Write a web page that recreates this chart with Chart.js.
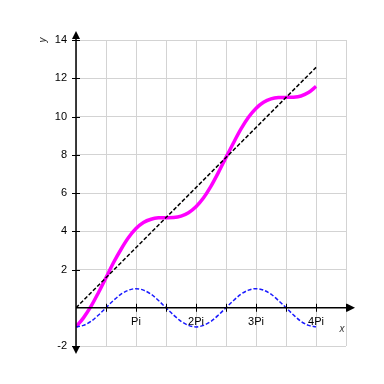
<!DOCTYPE html>
<html>
<head>
<meta charset="utf-8">
<script src="https://cdn.jsdelivr.net/npm/chart.js@4"></script>
<style>
  html, body { margin: 0; padding: 0; background: #fff; }
  #chart { display: block; }
</style>
</head>
<body>
<canvas id="chart" width="384" height="384"></canvas>
<script>
// sample points (x in radians, step Pi/8)
const xValues = [0, 0.39, 0.79, 1.18, 1.57, 1.96, 2.36, 2.75, 3.14, 3.53, 3.93, 4.32, 4.71, 5.11, 5.50, 5.89,
    6.28, 6.68, 7.07, 7.46, 7.85, 8.25, 8.64, 9.03, 9.42, 9.82, 10.21, 10.60, 11.00, 11.39, 11.78, 12.17, 12.57];
const curveValues = [-1, -0.53, 0.08, 0.80, 1.57, 2.35, 3.06, 3.67, 4.14, 4.46, 4.63, 4.70, 4.71, 4.72, 4.79, 4.97,
    5.28, 5.75, 6.36, 7.08, 7.85, 8.63, 9.35, 9.96, 10.42, 10.74, 10.92, 10.99, 11.00, 11.01, 11.07, 11.25, 11.57];
const waveValues = [-1, -0.92, -0.71, -0.38, 0, 0.38, 0.71, 0.92, 1, 0.92, 0.71, 0.38, 0, -0.38, -0.71, -0.92,
    -1, -0.92, -0.71, -0.38, 0, 0.38, 0.71, 0.92, 1, 0.92, 0.71, 0.38, 0, -0.38, -0.71, -0.92, -1];
const lineX = [0, 12.57];
const lineValues = [0, 12.57];

const PI = Math.PI;
const xTickStep = PI / 2;
const xLabels = ["", "Pi", "2Pi", "3Pi", "4Pi"];   // at multiples of Pi
const yTicks = [-2, 0, 2, 4, 6, 8, 10, 12, 14];

const toPoints = (xs, ys) => xs.map((x, i) => ({ x: x, y: ys[i] }));

const axesPlugin = {
    id: "axes",
    afterDatasetsDraw(chart) {
        const ctx = chart.ctx;
        const xs = chart.scales.x;
        const ys = chart.scales.y;
        const area = chart.chartArea;
        const x0 = xs.getPixelForValue(0);
        const y0 = ys.getPixelForValue(0);

        ctx.save();
        ctx.strokeStyle = "#000";
        ctx.fillStyle = "#000";
        ctx.lineWidth = 1.5;

        // axis lines
        ctx.beginPath();
        ctx.moveTo(x0, area.top - 2);
        ctx.lineTo(x0, area.bottom + 2);
        ctx.moveTo(x0, y0);
        ctx.lineTo(area.right + 2, y0);
        ctx.stroke();

        // arrows
        ctx.beginPath();
        ctx.moveTo(x0, area.top - 9);
        ctx.lineTo(x0 - 4, area.top - 1);
        ctx.lineTo(x0 + 4, area.top - 1);
        ctx.closePath();
        ctx.moveTo(x0, area.bottom + 8);
        ctx.lineTo(x0 - 4, area.bottom);
        ctx.lineTo(x0 + 4, area.bottom);
        ctx.closePath();
        ctx.moveTo(area.right + 9, y0);
        ctx.lineTo(area.right + 1, y0 - 4);
        ctx.lineTo(area.right + 1, y0 + 4);
        ctx.closePath();
        ctx.fill();

        // tick marks
        ctx.lineWidth = 1;
        ctx.beginPath();
        for (let v = xTickStep; v <= xs.max + 0.001; v += xTickStep) {
            const px = Math.round(xs.getPixelForValue(v)) + 0.5;
            ctx.moveTo(px, y0 - 4);
            ctx.lineTo(px, y0 + 4);
        }
        yTicks.forEach(v => {
            if (v === 0) return;
            const py = Math.round(ys.getPixelForValue(v)) + 0.5;
            ctx.moveTo(x0 - 4, py);
            ctx.lineTo(x0 + 4, py);
        });
        ctx.stroke();

        // tick labels
        ctx.font = "11px Arial, 'Liberation Sans', sans-serif";
        ctx.textAlign = "center";
        ctx.textBaseline = "top";
        xLabels.forEach((t, i) => {
            if (!t) return;
            ctx.fillText(t, xs.getPixelForValue(i * PI), y0 + 9);
        });
        ctx.textAlign = "right";
        ctx.textBaseline = "middle";
        yTicks.forEach(v => {
            if (v === 0) return;
            ctx.fillText(String(v), x0 - 9, ys.getPixelForValue(v));
        });

        // axis names
        ctx.font = "italic 10px Arial, 'Liberation Sans', sans-serif";
        ctx.fillStyle = "#333";
        ctx.textAlign = "center";
        ctx.fillText("x", area.right - 4, y0 + 21);
        ctx.save();
        ctx.translate(x0 - 33, area.top);
        ctx.rotate(-PI / 2);
        ctx.fillText("y", 0, 0);
        ctx.restore();

        ctx.restore();
    }
};

new Chart(document.getElementById("chart").getContext("2d"), {
    type: "scatter",
    data: {
        datasets: [
            {
                data: toPoints(lineX, lineValues),
                showLine: true,
                borderColor: "#000",
                borderWidth: 1.5,
                borderDash: [4, 2],
                pointRadius: 0
            },
            {
                data: toPoints(xValues, waveValues),
                showLine: true,
                borderColor: "#1a1aff",
                borderWidth: 1.5,
                borderDash: [4, 2],
                pointRadius: 0,
                cubicInterpolationMode: "monotone"
            },
            {
                data: toPoints(xValues, curveValues),
                showLine: true,
                borderColor: "#ff00ff",
                borderWidth: 3.5,
                pointRadius: 0,
                cubicInterpolationMode: "monotone"
            }
        ]
    },
    options: {
        responsive: false,
        animation: false,
        layout: { padding: { left: 76, right: 38, top: 40, bottom: 38 } },
        plugins: { legend: { display: false }, tooltip: { enabled: false } },
        scales: {
            x: {
                type: "linear",
                min: 0,
                max: 4.5 * PI,
                afterBuildTicks: scale => {
                    const ticks = [];
                    for (let i = 0; i <= 9; i++) ticks.push({ value: i * xTickStep });
                    scale.ticks = ticks;
                },
                ticks: { display: false },
                grid: { color: "#d3d3d3", lineWidth: 1, drawTicks: false },
                border: { display: false }
            },
            y: {
                min: -2,
                max: 14,
                afterBuildTicks: scale => {
                    scale.ticks = yTicks.map(v => ({ value: v }));
                },
                ticks: { display: false },
                grid: { color: "#d3d3d3", lineWidth: 1, drawTicks: false },
                border: { display: false }
            }
        }
    },
    plugins: [axesPlugin]
});
</script>
</body>
</html>
